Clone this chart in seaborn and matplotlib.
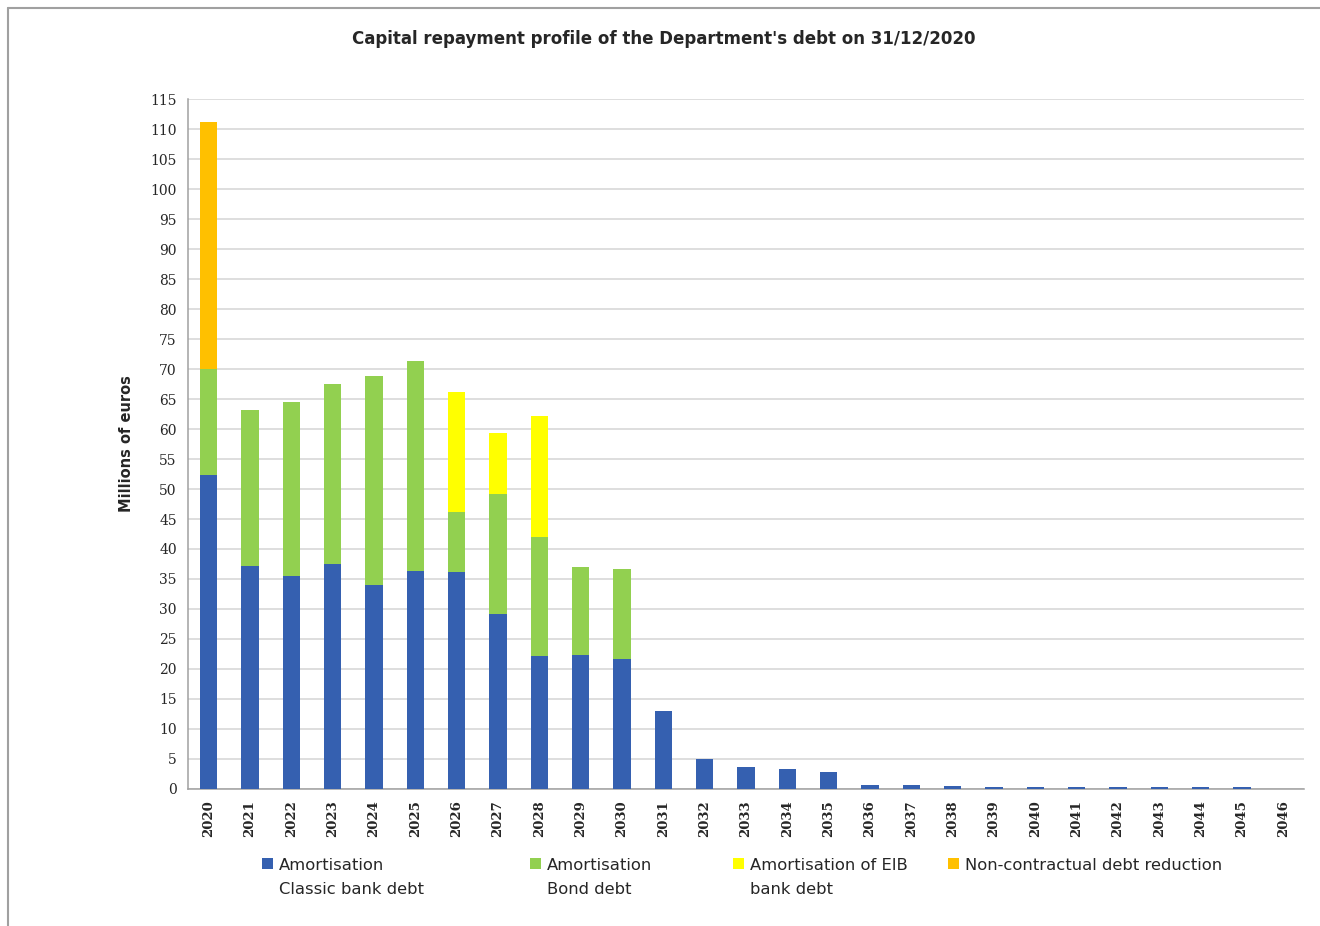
import numpy as np
import pandas as pd
import matplotlib
matplotlib.use('Agg')
import matplotlib.pyplot as plt
from matplotlib.patches import Rectangle
from matplotlib.lines import Line2D
import seaborn as sns

# Data (millions of euros)
years = [str(y) for y in range(2020, 2047)]
classic_bank = [52.3, 37.2, 35.5, 37.5, 34.0, 36.3, 36.2, 29.2, 22.2, 22.3, 21.7,
                13.0, 5.0, 3.7, 3.4, 2.8, 0.6, 0.6, 0.45, 0.33, 0.33, 0.33, 0.33,
                0.33, 0.33, 0.33, 0.0]
bond_debt = [17.7, 26.0, 29.0, 30.0, 34.8, 35.0, 10.0, 20.0, 19.8, 14.7, 15.0,
             0, 0, 0, 0, 0, 0, 0, 0, 0, 0, 0, 0, 0, 0, 0, 0]
eib_debt = [0, 0, 0, 0, 0, 0, 20.0, 10.1, 20.2, 0, 0,
            0, 0, 0, 0, 0, 0, 0, 0, 0, 0, 0, 0, 0, 0, 0, 0]
non_contractual = [41.2, 0, 0, 0, 0, 0, 0, 0, 0, 0, 0,
                   0, 0, 0, 0, 0, 0, 0, 0, 0, 0, 0, 0, 0, 0, 0, 0]

series_labels = ['Amortisation\nClassic bank debt', 'Amortisation\nBond debt',
                 'Amortisation of EIB\nbank debt', 'Non-contractual debt reduction']
colors = ['#3560B0', '#92D050', '#FFFF00', '#FFC000']

df = pd.DataFrame({'year': years, 'classic': classic_bank, 'bond': bond_debt,
                   'eib': eib_debt, 'noncontract': non_contractual})
# cumulative heights for stacking by overlay
df['c1'] = df['classic']
df['c2'] = df['c1'] + df['bond']
df['c3'] = df['c2'] + df['eib']
df['c4'] = df['c3'] + df['noncontract']

sns.set_style('white')
fig = plt.figure(figsize=(13.2, 9.26), dpi=100)
ax = fig.add_axes([0.1424, 0.148, 0.8455, 0.745])

for col, color in zip(['c4', 'c3', 'c2', 'c1'], colors[::-1]):
    sns.barplot(data=df, x='year', y=col, color=color, width=0.42,
                saturation=1, ax=ax, zorder=3, edgecolor='none', linewidth=0)

ax.set_ylim(0, 115)
ax.set_xlim(-0.5, len(years) - 0.5)
ax.set_yticks(np.arange(0, 116, 5))
ax.yaxis.grid(True, color='#d4d4d4', linewidth=1.1, zorder=0)
ax.set_axisbelow(True)
ax.set_xlabel('')
ax.set_ylabel('Millions of euros', fontsize=10.5, fontweight='bold', labelpad=12)

ax.tick_params(axis='y', labelsize=10, length=4, color='#a0a0a0', pad=4)
for lbl in ax.get_yticklabels():
    lbl.set_family('DejaVu Serif')
ax.tick_params(axis='x', which='major', length=0, pad=8, labelsize=9.5,
               labelrotation=90)
for lbl in ax.get_xticklabels():
    lbl.set_fontweight('bold')
    lbl.set_family('DejaVu Serif')
ax.set_xticks(np.arange(-0.5, len(years), 1), minor=True)
ax.tick_params(axis='x', which='minor', length=5, color='#a0a0a0')

for side in ['top', 'right']:
    ax.spines[side].set_visible(False)
for side in ['left', 'bottom']:
    ax.spines[side].set_color('#a0a0a0')
    ax.spines[side].set_linewidth(1.1)

fig.suptitle("Capital repayment profile of the Department's debt on 31/12/2020",
             x=0.503, y=0.968, fontsize=12, fontweight='bold')

# legend entries placed individually like the reference
W, H = 1320, 926
legend_x = [262, 530, 733, 948]
for x, label, color in zip(legend_x, series_labels, colors):
    fig.add_artist(Rectangle((x / W, 1 - 869 / H), 11 / W, 11 / H,
                             transform=fig.transFigure, facecolor=color,
                             edgecolor='none'))
    fig.text((x + 17) / W, 1 - 858 / H, label, fontsize=11.8, va='top',
             ha='left', linespacing=1.75)

# thin frame lines at top and left as in the reference
fig.add_artist(Line2D([0.006, 0.006], [0.0, 0.991], transform=fig.transFigure,
                      color='#a0a0a0', linewidth=1.5))
fig.add_artist(Line2D([0.006, 1.0], [0.991, 0.991], transform=fig.transFigure,
                      color='#a0a0a0', linewidth=1.5))

fig.savefig('out.png', dpi=100)
